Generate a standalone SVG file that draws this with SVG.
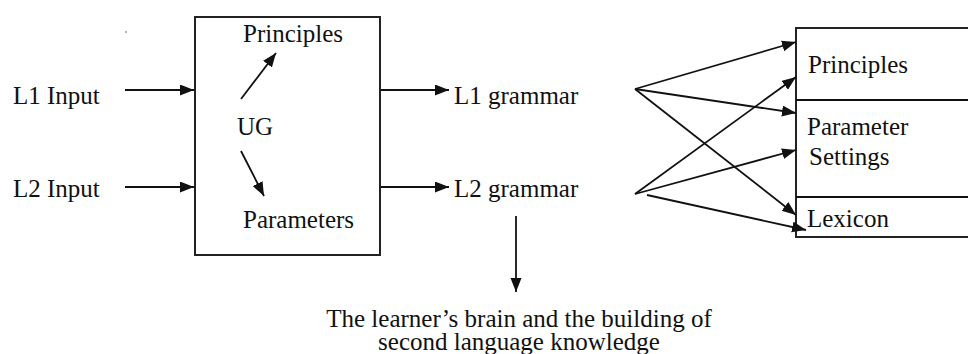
<svg xmlns="http://www.w3.org/2000/svg" width="968" height="354" viewBox="0 0 968 354">
<style>
text{font-family:"Liberation Serif","Times New Roman",serif;font-size:25px;fill:#111}
.box{fill:none;stroke:#222;stroke-width:2}
.div{stroke:#111;stroke-width:2}
#connectors line{stroke:#111;stroke-width:1.8;marker-end:url(#ah)}
</style>
<defs>
<marker id="ah" markerUnits="userSpaceOnUse" markerWidth="15" markerHeight="12" refX="14" refY="5.5" orient="auto">
<path d="M0,0 L14,5.5 L0,11 z" fill="#111"/>
</marker>
</defs>
<rect width="968" height="354" fill="#fff"/>
<circle cx="126" cy="32" r="0.8" fill="#555"/>
<g id="l1input"><text x="13" y="104">L1 Input</text></g>
<g id="l2input"><text x="13" y="197">L2 Input</text></g>
<g id="ug">
<rect class="box" x="195" y="17" width="185" height="238"/>
<text x="243" y="42">Principles</text>
<text x="237" y="135">UG</text>
<text x="243" y="228">Parameters</text>
</g>
<g id="l1grammar"><text x="454" y="104">L1 grammar</text></g>
<g id="l2grammar"><text x="454" y="197">L2 grammar</text></g>
<g id="knowledge">
<rect class="box" x="796" y="28" width="180" height="209"/>
<line class="div" x1="796" y1="100" x2="970" y2="100"/>
<line class="div" x1="796" y1="197" x2="970" y2="197"/>
<text x="808" y="73">Principles</text>
<text x="807" y="135">Parameter</text>
<text x="809" y="165">Settings</text>
<text x="807" y="227">Lexicon</text>
</g>
<g id="brain">
<text x="519" y="327" text-anchor="middle">The learner’s brain and the building of</text>
<text x="519" y="350" text-anchor="middle">second language knowledge</text>
</g>
<g id="connectors">
<line x1="125" y1="90" x2="194" y2="90"/>
<line x1="125" y1="187" x2="194" y2="187"/>
<line x1="241" y1="99" x2="276" y2="53"/>
<line x1="241" y1="151" x2="264" y2="196"/>
<line x1="381" y1="90" x2="449" y2="90"/>
<line x1="381" y1="187" x2="449" y2="187"/>
<line x1="516" y1="216" x2="516" y2="292"/>
<line x1="635" y1="89" x2="796" y2="42"/>
<line x1="635" y1="89" x2="796" y2="113"/>
<line x1="635" y1="89" x2="796" y2="215"/>
<line x1="635" y1="194" x2="796" y2="77"/>
<line x1="635" y1="194" x2="796" y2="150"/>
<line x1="647" y1="195" x2="806" y2="230"/>
</g>
</svg>
